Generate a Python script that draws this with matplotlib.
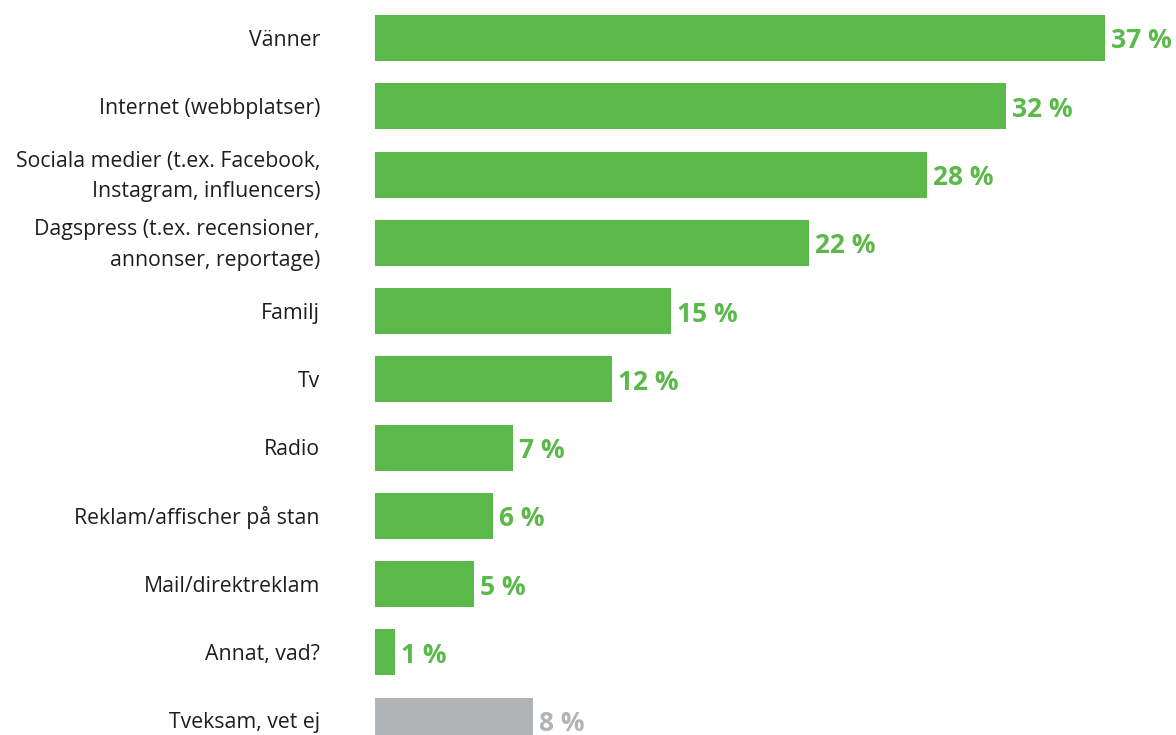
import matplotlib
matplotlib.use("Agg")
import matplotlib.pyplot as plt

categories = [
    "Vänner",
    "Internet (webbplatser)",
    "Sociala medier (t.ex. Facebook,\nInstagram, influencers)",
    "Dagspress (t.ex. recensioner,\nannonser, reportage)",
    "Familj",
    "Tv",
    "Radio",
    "Reklam/affischer på stan",
    "Mail/direktreklam",
    "Annat, vad?",
    "Tveksam, vet ej",
]
values = [37, 32, 28, 22, 15, 12, 7, 6, 5, 1, 8]
value_labels = [f"{v} %" for v in values]

GREEN = "#5bb94a"
GREY = "#b1b4b6"
colors = [GREEN] * (len(values) - 1) + [GREY]

plt.rcParams["font.family"] = ["Open Sans", "DejaVu Sans"]

W, H = 1176, 735
fig = plt.figure(figsize=(W / 100, H / 100), dpi=100)
ax_left = 375 / W
ax = fig.add_axes([ax_left, 0, 1 - ax_left, 1])

step = 68.27
first_center = 38
ax.set_ylim((H - first_center) / step, -first_center / step)
px_per_unit = 19.73
ax.set_xlim(0, (W - 375) / px_per_unit)

ypos = list(range(len(values)))
ax.barh(ypos, values, height=46 / step, color=colors, linewidth=0)

PT = 0.72  # points per pixel at 100 dpi
for y, v, lab, c in zip(ypos, values, value_labels, colors):
    ax.annotate(lab, xy=(v, y), xytext=(6 * PT, -3 * PT), textcoords="offset points",
                ha="left", va="center", fontsize=19, fontweight="bold", color=c)

for y, cat in zip(ypos, categories):
    ax.annotate(cat, xy=(0, y), xytext=(-55 * PT, -2 * PT), textcoords="offset points",
                ha="right", va="center", fontsize=15.3, color="#1e1e1e",
                linespacing=1.6, annotation_clip=False)

ax.axis("off")
fig.savefig("out.png", dpi=100)
